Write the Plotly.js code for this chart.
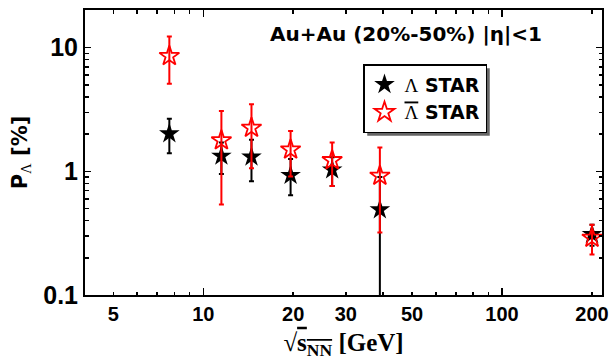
<!DOCTYPE html>
<html><head><meta charset="utf-8">
<script src="https://cdn.plot.ly/plotly-3.0.1.min.js"></script>
<style>html,body{margin:0;padding:0;background:#fff}</style>
</head><body><div id="chart" style="width:611px;height:360px"></div>
<script>
// Collision energies (GeV)
const energies = [7.7, 11.5, 14.5, 19.6, 27, 39, 200];
// Lambda polarization (%)
const lambdaP = [2.02, 1.33, 1.31, 0.93, 1.03, 0.49, 0.31];
const lambdaErrPlus = [0.64, 0.38, 0.49, 0.33, 0.27, 0.41, 0.06];
const lambdaErrMinus = [0.62, 0.38, 0.48, 0.29, 0.27, 0.41, 0.06];
// Anti-Lambda polarization (%)
const antiP = [8.55, 1.78, 2.25, 1.50, 1.23, 0.92, 0.29];
const antiErrPlus = [3.8, 1.29, 1.24, 0.62, 0.48, 0.64, 0.08];
const antiErrMinus = [3.43, 1.24, 1.19, 0.59, 0.47, 0.60, 0.077];
// Axis ticks
const xTickVals = [5, 10, 20, 30, 50, 100, 200];
const xTickText = ['5', '10', '20', '30', '50', '100', '200'];
const xLongTicks = [10, 100];
const xMinorTicks = [6, 7, 8, 9, 40, 60, 70, 80, 90];
const yTickVals = [0.1, 1, 10];
const yTickText = ['0.1', '1', '10'];
const yMinorTicks = [0.2, 0.3, 0.4, 0.5, 0.6, 0.7, 0.8, 0.9, 2, 3, 4, 5, 6, 7, 8, 9, 20];

const xRange = [Math.log10(4.02), Math.log10(216)];
const yRange = [-1, 1.305];

const traces = [
  {
    x: energies, y: lambdaP, type: 'scatter', mode: 'markers',
    name: '<span style="font-family:\'Liberation Serif\';font-weight:normal">Λ</span> STAR',
    legendgroup: 'a', cliponaxis: false,
    marker: {symbol: 'star', size: 15.5, color: '#000000', line: {width: 0}},
    error_y: {type: 'data', symmetric: false, array: lambdaErrPlus, arrayminus: lambdaErrMinus,
      color: '#000000', thickness: 2, width: 2.5}
  },
  {
    x: energies, y: antiP, type: 'scatter', mode: 'markers',
    name: '<span style="font-family:\'Liberation Serif\';font-weight:normal;text-decoration:overline">Λ</span> STAR',
    legendgroup: 'b', cliponaxis: false,
    marker: {symbol: 'star-open', size: 15, color: '#ff0000', line: {width: 1.8, color: '#ff0000'}},
    error_y: {type: 'data', symmetric: false, array: antiErrPlus, arrayminus: antiErrMinus,
      color: '#ff0000', thickness: 2, width: 2.5}
  },
  {
    x: [], y: [], xaxis: 'x2', yaxis: 'y', type: 'scatter', mode: 'markers',
    showlegend: false, hoverinfo: 'skip'
  }
];

const L = 85, R = 602, T = 10, B = 295;
const pw = R - L, ph = B - T;
const px = v => (v - L) / pw;
const py = v => (B - v) / ph;

const layout = {
  width: 611, height: 360,
  margin: {l: L, r: 611 - R, t: T, b: 360 - B, pad: 0},
  paper_bgcolor: '#ffffff', plot_bgcolor: '#ffffff',
  showlegend: true,
  font: {family: 'Liberation Sans, Arial, sans-serif', color: '#000000'},
  xaxis: {
    type: 'log', range: xRange, showgrid: false, zeroline: false,
    showline: true, linecolor: '#000000', linewidth: 2, mirror: 'ticks',
    ticks: 'inside', ticklen: 3.5, tickwidth: 1.5, tickcolor: '#000000',
    tickmode: 'array', tickvals: xTickVals, ticktext: xTickText,
    tickfont: {family: 'Liberation Sans, Arial', size: 20, weight: 'bold', color: '#000'},
    minor: {tickmode: 'array', tickvals: xMinorTicks, ticks: 'inside', ticklen: 3.5, tickwidth: 1.5, tickcolor: '#000', showgrid: false},
    title: {
      text: '√<span style="text-decoration:overline">s<sub>NN</sub></span> [GeV]',
      font: {family: 'Liberation Serif, Times New Roman, serif', size: 25, weight: 'bold', color: '#000'},
      standoff: 10
    }
  },
  xaxis2: {
    type: 'log', range: xRange, overlaying: 'x', anchor: 'y', side: 'bottom',
    showgrid: false, zeroline: false, showline: false, mirror: 'ticks',
    ticks: 'inside', ticklen: 7, tickwidth: 1.5, tickcolor: '#000000',
    tickmode: 'array', tickvals: xLongTicks, showticklabels: false
  },
  yaxis: {
    type: 'log', range: yRange, showgrid: false, zeroline: false,
    showline: true, linecolor: '#000000', linewidth: 2, mirror: 'ticks',
    ticks: 'inside', ticklen: 6, tickwidth: 1.5, tickcolor: '#000000',
    tickmode: 'array', tickvals: yTickVals, ticktext: yTickText,
    tickfont: {family: 'Liberation Sans, Arial', size: 25, weight: 'bold', color: '#000'},
    minor: {tickmode: 'array', tickvals: yMinorTicks, ticks: 'inside', ticklen: 3.5, tickwidth: 1.5, tickcolor: '#000', showgrid: false},
    title: {
      text: 'P<sub><span style="font-family:\'Liberation Serif\';font-weight:normal">Λ</span></sub> [%]',
      font: {family: 'DejaVu Sans, sans-serif', size: 21, weight: 'bold', color: '#000'},
      standoff: 10
    }
  },
  legend: {
    x: px(363), y: py(64), xanchor: 'left', yanchor: 'top',
    bgcolor: '#ffffff', bordercolor: '#000000', borderwidth: 1.5,
    font: {family: 'DejaVu Sans, sans-serif', size: 19, weight: 'bold', color: '#000'},
    tracegroupgap: 0, traceorder: 'grouped',
    entrywidth: 88, entrywidthmode: 'pixels'
  },
  annotations: [
    {xref: 'paper', yref: 'paper', x: px(405.5), y: py(34), xanchor: 'center', yanchor: 'middle',
      text: 'Au+Au (20%-50%) |η|<1', showarrow: false,
      font: {family: 'DejaVu Sans, sans-serif', size: 20, weight: 'bold', color: '#000'}}
  ]
};

const gd = document.getElementById('chart');
Plotly.newPlot(gd, traces, layout, {staticPlot: true, displayModeBar: false}).then(() => {
  // Drop shadow behind the legend box, placed from the legend's rendered box
  const bg = gd.querySelector('.legend .bg');
  if (!bg) return;
  const r = bg.getBoundingClientRect();
  const c = gd.getBoundingClientRect();
  const x0 = r.left - c.left + 3.5, x1 = r.right - c.left + 3.5;
  const y0 = r.top - c.top + 3.5, y1 = r.bottom - c.top + 3.5;
  return Plotly.relayout(gd, {shapes: [{
    type: 'rect', xref: 'paper', yref: 'paper', layer: 'above',
    x0: px(x0), x1: px(x1), y0: py(y1), y1: py(y0),
    fillcolor: '#666666', line: {width: 0}
  }]});
});
</script>
</body></html>
